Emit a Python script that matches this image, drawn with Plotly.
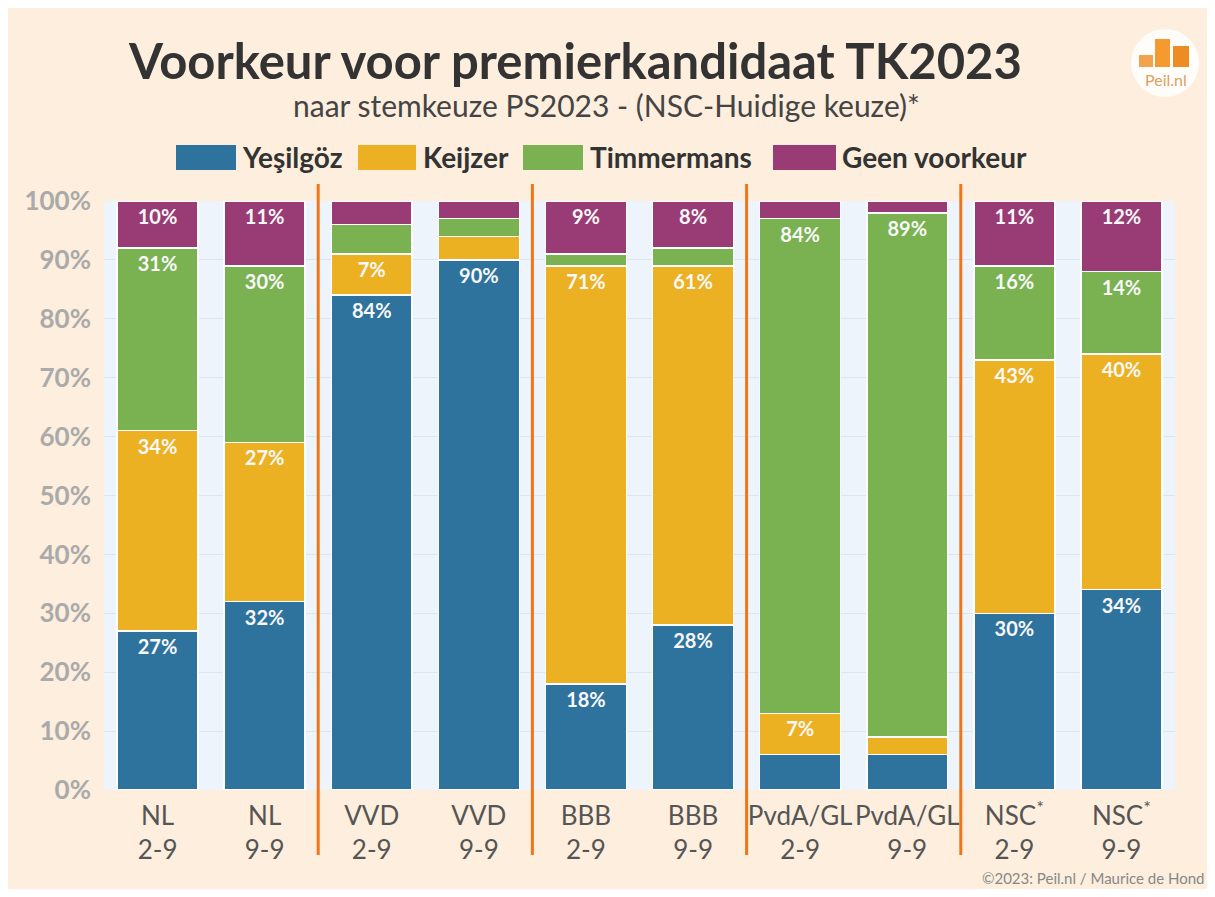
import plotly.graph_objects as go

# ---------------- data ----------------
groups = ["NL", "NL", "VVD", "VVD", "BBB", "BBB", "PvdA/GL", "PvdA/GL", "NSC<sup>*</sup>", "NSC<sup>*</sup>"]
dates = ["2-9", "9-9", "2-9", "9-9", "2-9", "9-9", "2-9", "9-9", "2-9", "9-9"]
tick_labels = [f"{g}<br>{d}" for g, d in zip(groups, dates)]

series_names = ["Yeşilgöz", "Keijzer", "Timmermans", "Geen voorkeur"]
yesilgoz = [27, 32, 84, 90, 18, 28, 6, 6, 30, 34]
keijzer = [34, 27, 7, 4, 71, 61, 7, 3, 43, 40]
timmermans = [31, 30, 5, 3, 2, 3, 84, 89, 16, 14]
geen = [8, 11, 4, 3, 9, 8, 3, 2, 11, 12]

yesilgoz_labels = ["27%", "32%", "84%", "90%", "18%", "28%", "", "", "30%", "34%"]
keijzer_labels = ["34%", "27%", "7%", "", "71%", "61%", "7%", "", "43%", "40%"]
timmermans_labels = ["31%", "30%", "", "", "", "", "84%", "89%", "16%", "14%"]
geen_labels = ["10%", "11%", "", "", "9%", "8%", "", "", "11%", "12%"]

y_ticks = [0, 10, 20, 30, 40, 50, 60, 70, 80, 90, 100]
y_tick_labels = [f"{v}%" for v in y_ticks]
separators = [1.5, 3.5, 5.5, 7.5]

colors = ["#2e729e", "#ecb122", "#7ab252", "#993b74"]
BEIGE = "#fdeedd"
PLOT_BG = "#eef4fb"
ORANGE = "#f0761a"

# ---------------- geometry helpers (figure pixels) ----------------
FW, FH = 1199, 881
L, T = 96, 193
W, H = 1071, 589
R, B = FW - L - W, FH - T - H


def px(page_x):
    return (page_x - 8 - L) / W


def py(page_y):
    return 1 - (page_y - 8 - T) / H


x = list(range(len(tick_labels)))
fig = go.Figure()
for name, vals, labs, col in zip(series_names,
                                 [yesilgoz, keijzer, timmermans, geen],
                                 [yesilgoz_labels, keijzer_labels, timmermans_labels, geen_labels],
                                 colors):
    fig.add_trace(go.Bar(
        x=x, y=vals, name=name, text=labs,
        textposition="inside", insidetextanchor="end", textangle=0,
        textfont=dict(family="Lato", size=20, color="#f8f8f8", weight="bold"),
        marker=dict(color=col, line=dict(color="white", width=1.5)),
        showlegend=False, hoverinfo="skip",
    ))

shapes = []
# beige card background
shapes.append(dict(type="rect", xref="paper", yref="paper", x0=px(8), x1=px(1230),
                   y0=py(910), y1=py(11), fillcolor=BEIGE, line=dict(width=0), layer="below"))
# plot area background
shapes.append(dict(type="rect", xref="paper", yref="paper", x0=0, x1=1, y0=0, y1=1,
                   fillcolor=PLOT_BG, line=dict(width=0), layer="below"))
# orange separators
for s in separators:
    shapes.append(dict(type="line", xref="x", yref="paper", x0=s, x1=s,
                       y0=py(855), y1=py(184), line=dict(color=ORANGE, width=3), layer="above"))

# custom legend
leg_boxes = [(177, 235), (359, 415), (524, 582), (774, 835)]
leg_text_x = [240, 421, 588, 840]
for (bx0, bx1), col in zip(leg_boxes, colors):
    shapes.append(dict(type="rect", xref="paper", yref="paper", x0=px(bx0), x1=px(bx1),
                       y0=py(169), y1=py(146), fillcolor=col, line=dict(color=col, width=2)))

# logo
shapes.append(dict(type="circle", xref="paper", yref="paper", x0=px(1131), x1=px(1199),
                   y0=py(97), y1=py(29), fillcolor="rgba(255,255,255,0.85)", line=dict(width=0)))
for (bx0, bx1, by0), col in zip([(1139, 1153, 55), (1155, 1170, 39), (1173, 1189, 46)],
                                ["#f3a24e", "#f49a2e", "#ec8c22"]):
    shapes.append(dict(type="rect", xref="paper", yref="paper", x0=px(bx0), x1=px(bx1),
                       y0=py(67), y1=py(by0), fillcolor=col, line=dict(width=0)))

annotations = []
annotations.append(dict(text="<b>Voorkeur voor premierkandidaat TK2023</b>", x=px(575), y=py(60),
                        xref="paper", yref="paper", showarrow=False, xanchor="center", yanchor="middle",
                        font=dict(family="Lato", size=49, color="#333333")))
annotations.append(dict(text="naar stemkeuze PS2023 - (NSC-Huidige keuze)*", x=px(606), y=py(105),
                        xref="paper", yref="paper", showarrow=False, xanchor="center", yanchor="middle",
                        font=dict(family="Lato", size=30, color="#444444")))
for name, tx in zip(series_names, leg_text_x):
    annotations.append(dict(text=f"<b>{name}</b>", x=px(tx), y=py(157), xref="paper", yref="paper",
                            showarrow=False, xanchor="left", yanchor="middle",
                            font=dict(family="Lato", size=28, color="#333333")))
annotations.append(dict(text="Peil.nl", x=px(1166), y=py(79), xref="paper", yref="paper",
                        showarrow=False, xanchor="center", yanchor="middle",
                        font=dict(family="Lato", size=16, color="#dda060")))
annotations.append(dict(text="©2023: Peil.nl / Maurice de Hond", x=px(1206), y=py(878),
                        xref="paper", yref="paper", showarrow=False, xanchor="right", yanchor="middle",
                        font=dict(family="Lato", size=15, color="#888888")))

fig.update_layout(
    barmode="stack", bargap=0.245,
    width=FW, height=FH,
    margin=dict(l=L, r=R, t=T, b=B, pad=0),
    paper_bgcolor=BEIGE, plot_bgcolor="rgba(0,0,0,0)",
    shapes=shapes, annotations=annotations,
    xaxis=dict(tickmode="array", tickvals=x, ticktext=tick_labels, range=[-0.5, 9.5],
               showgrid=False, zeroline=False, showline=False, ticks="",
               ticklabelstandoff=8,
               tickfont=dict(family="Lato", size=26, color="#555555")),
    yaxis=dict(range=[0, 100], tickmode="array", tickvals=y_ticks, ticktext=y_tick_labels,
               showgrid=True, gridcolor="#dde5ee", gridwidth=1, zeroline=False, showline=False,
               ticklabelstandoff=12,
               tickfont=dict(family="Lato", size=26, color="#aaaaaa", weight="bold")),
    uniformtext=dict(mode=False),
)

fig.write_html("out.html")
